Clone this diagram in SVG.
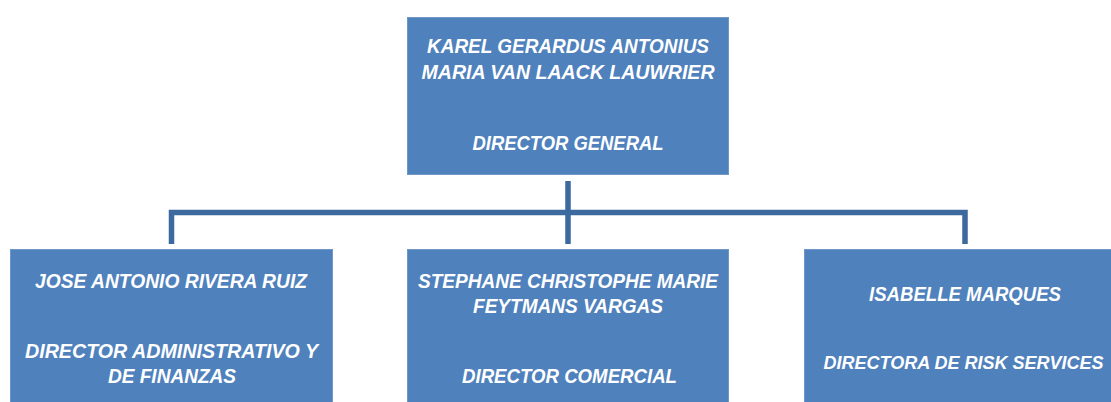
<svg xmlns="http://www.w3.org/2000/svg" width="1111" height="402" viewBox="0 0 1111 402">
<style>
.box{fill:#4F81BD;stroke:#6E96C8;stroke-width:1}
.t{font-family:"Liberation Sans",Arial,sans-serif;font-weight:bold;font-style:italic;font-size:20px;fill:#FFFFFF;text-anchor:middle}
.s{font-size:18px}
.c{stroke:#3D6A9E;stroke-width:5.5;fill:none;stroke-linecap:butt;stroke-linejoin:miter}
</style>
<rect width="1111" height="402" fill="#FFFFFF"/>
<g id="connectors">
<path class="c" d="M568 181 V244"/>
<path class="c" d="M171.5 244 V212.5 H965 V244"/>
</g>
<g id="node-karel">
<rect class="box" x="407.5" y="17.5" width="321" height="157"/>
<text class="t" x="568" y="53" textLength="282" lengthAdjust="spacingAndGlyphs">KAREL GERARDUS ANTONIUS</text>
<text class="t" x="568" y="79" textLength="293" lengthAdjust="spacingAndGlyphs">MARIA VAN LAACK LAUWRIER</text>
<text class="t" x="568" y="150" textLength="191" lengthAdjust="spacingAndGlyphs">DIRECTOR GENERAL</text>
</g>
<g id="node-jose">
<rect class="box" x="10.5" y="249.5" width="322" height="160"/>
<text class="t" x="171" y="288" textLength="272" lengthAdjust="spacingAndGlyphs">JOSE ANTONIO RIVERA RUIZ</text>
<text class="t" x="171.5" y="358" textLength="293" lengthAdjust="spacingAndGlyphs">DIRECTOR ADMINISTRATIVO Y</text>
<text class="t" x="172" y="383" textLength="128" lengthAdjust="spacingAndGlyphs">DE FINANZAS</text>
</g>
<g id="node-stephane">
<rect class="box" x="407.5" y="249.5" width="321" height="160"/>
<text class="t" x="568" y="288" textLength="300" lengthAdjust="spacingAndGlyphs">STEPHANE CHRISTOPHE MARIE</text>
<text class="t" x="568" y="313" textLength="190" lengthAdjust="spacingAndGlyphs">FEYTMANS VARGAS</text>
<text class="t" x="569.5" y="383" textLength="215" lengthAdjust="spacingAndGlyphs">DIRECTOR COMERCIAL</text>
</g>
<g id="node-isabelle">
<rect class="box" x="804.5" y="249.5" width="310" height="160"/>
<text class="t" x="965" y="301" textLength="192" lengthAdjust="spacingAndGlyphs">ISABELLE MARQUES</text>
<text class="t s" x="963.5" y="369">DIRECTORA DE RISK SERVICES</text>
</g>
</svg>
